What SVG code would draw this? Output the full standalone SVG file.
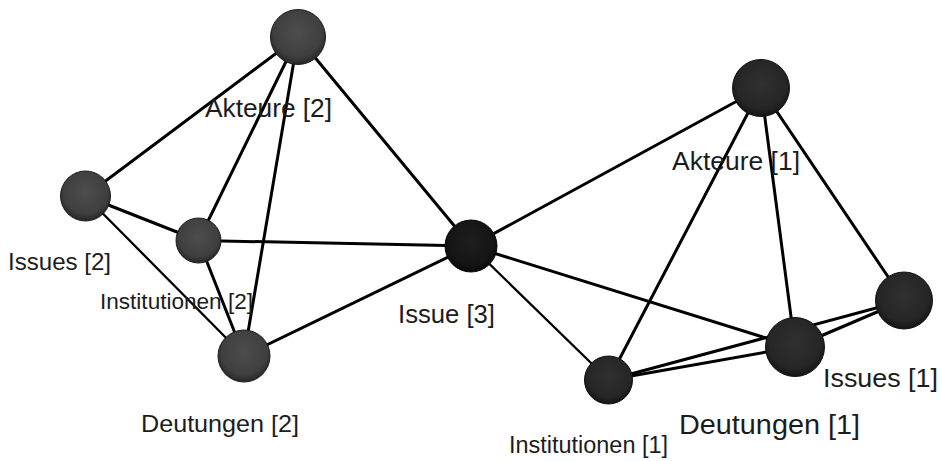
<svg xmlns="http://www.w3.org/2000/svg" width="942" height="461" viewBox="0 0 942 461">
  <style>
    .edge { stroke: #000; stroke-width: 3; stroke-linecap: round; fill: none; }
    .thin { stroke-width: 2.3; }
    .lbl { font-family: "Liberation Sans", Arial, sans-serif; fill: #1c1c1c; }
    .nodeL { fill: url(#gL); stroke: #1e1e1e; stroke-width: 1; }
    .nodeR { fill: url(#gR); stroke: #111; stroke-width: 1; }
    .nodeC { fill: url(#gC); stroke: #080808; stroke-width: 1; }
  </style>
  <defs>
    <radialGradient id="gL" cx="50%" cy="42%" r="58%">
      <stop offset="0%" stop-color="#4d4d4d"/>
      <stop offset="75%" stop-color="#3f3f3f"/>
      <stop offset="100%" stop-color="#262626"/>
    </radialGradient>
    <radialGradient id="gR" cx="50%" cy="42%" r="58%">
      <stop offset="0%" stop-color="#303030"/>
      <stop offset="75%" stop-color="#262626"/>
      <stop offset="100%" stop-color="#151515"/>
    </radialGradient>
    <radialGradient id="gC" cx="50%" cy="42%" r="58%">
      <stop offset="0%" stop-color="#1e1e1e"/>
      <stop offset="75%" stop-color="#151515"/>
      <stop offset="100%" stop-color="#080808"/>
    </radialGradient>
  </defs>
  <rect width="942" height="461" fill="#fff"/>

  <g id="connectors">
    <line class="edge" x1="298" y1="37" x2="85.5" y2="196"/>
    <line class="edge" x1="298" y1="37" x2="198.5" y2="240.5"/>
    <line class="edge" x1="298" y1="37" x2="244" y2="356"/>
    <line class="edge" x1="298" y1="37" x2="471" y2="246"/>
    <line class="edge" x1="85.5" y1="196" x2="198.5" y2="240.5"/>
    <line class="edge thin" x1="85.5" y1="196" x2="244" y2="356"/>
    <line class="edge" x1="198.5" y1="240.5" x2="244" y2="356"/>
    <line class="edge" x1="198.5" y1="240.5" x2="471" y2="246"/>
    <line class="edge" x1="244" y1="356" x2="471" y2="246"/>

    <line class="edge" x1="471" y1="246" x2="761" y2="88"/>
    <line class="edge" x1="471" y1="246" x2="795" y2="347"/>
    <line class="edge thin" x1="471" y1="246" x2="608.5" y2="380"/>
    <line class="edge" x1="761" y1="88" x2="608.5" y2="380"/>
    <line class="edge" x1="761" y1="88" x2="795" y2="347"/>
    <line class="edge" x1="761" y1="88" x2="904" y2="300.5"/>
    <line class="edge" x1="608.5" y1="380" x2="795" y2="347"/>
    <line class="edge" x1="608.5" y1="380" x2="904" y2="300.5"/>
    <line class="edge" x1="795" y1="347" x2="904" y2="300.5"/>
  </g>

  <g id="akteure2">
    <circle class="nodeL" cx="298" cy="37" r="27.5"/>
    <text class="lbl" x="205" y="117" font-size="25" textLength="127" lengthAdjust="spacingAndGlyphs">Akteure [2]</text>
  </g>
  <g id="issues2">
    <circle class="nodeL" cx="85.5" cy="196" r="25"/>
    <text class="lbl" x="8" y="270" font-size="24" textLength="103" lengthAdjust="spacingAndGlyphs">Issues [2]</text>
  </g>
  <g id="institutionen2">
    <circle class="nodeL" cx="198.5" cy="240.5" r="22.5"/>
    <text class="lbl" x="100" y="309" font-size="22" textLength="153" lengthAdjust="spacingAndGlyphs">Institutionen [2]</text>
  </g>
  <g id="deutungen2">
    <circle class="nodeL" cx="244" cy="356" r="26"/>
    <text class="lbl" x="141" y="432" font-size="24" textLength="158" lengthAdjust="spacingAndGlyphs">Deutungen [2]</text>
  </g>
  <g id="issue3">
    <circle class="nodeC" cx="471" cy="246" r="26"/>
    <text class="lbl" x="398" y="323" font-size="25" textLength="97" lengthAdjust="spacingAndGlyphs">Issue [3]</text>
  </g>
  <g id="akteure1">
    <circle class="nodeR" cx="761" cy="88" r="28.5"/>
    <text class="lbl" x="672" y="170" font-size="25" textLength="128" lengthAdjust="spacingAndGlyphs">Akteure [1]</text>
  </g>
  <g id="issues1">
    <circle class="nodeR" cx="904" cy="300.5" r="28.5"/>
    <text class="lbl" x="823" y="387" font-size="26" textLength="115" lengthAdjust="spacingAndGlyphs">Issues [1]</text>
  </g>
  <g id="deutungen1">
    <circle class="nodeR" cx="795" cy="347" r="29.5"/>
    <text class="lbl" x="679" y="434" font-size="27" textLength="181" lengthAdjust="spacingAndGlyphs">Deutungen [1]</text>
  </g>
  <g id="institutionen1">
    <circle class="nodeR" cx="608.5" cy="380" r="24"/>
    <text class="lbl" x="509" y="453" font-size="23" textLength="159" lengthAdjust="spacingAndGlyphs">Institutionen [1]</text>
  </g>
</svg>
